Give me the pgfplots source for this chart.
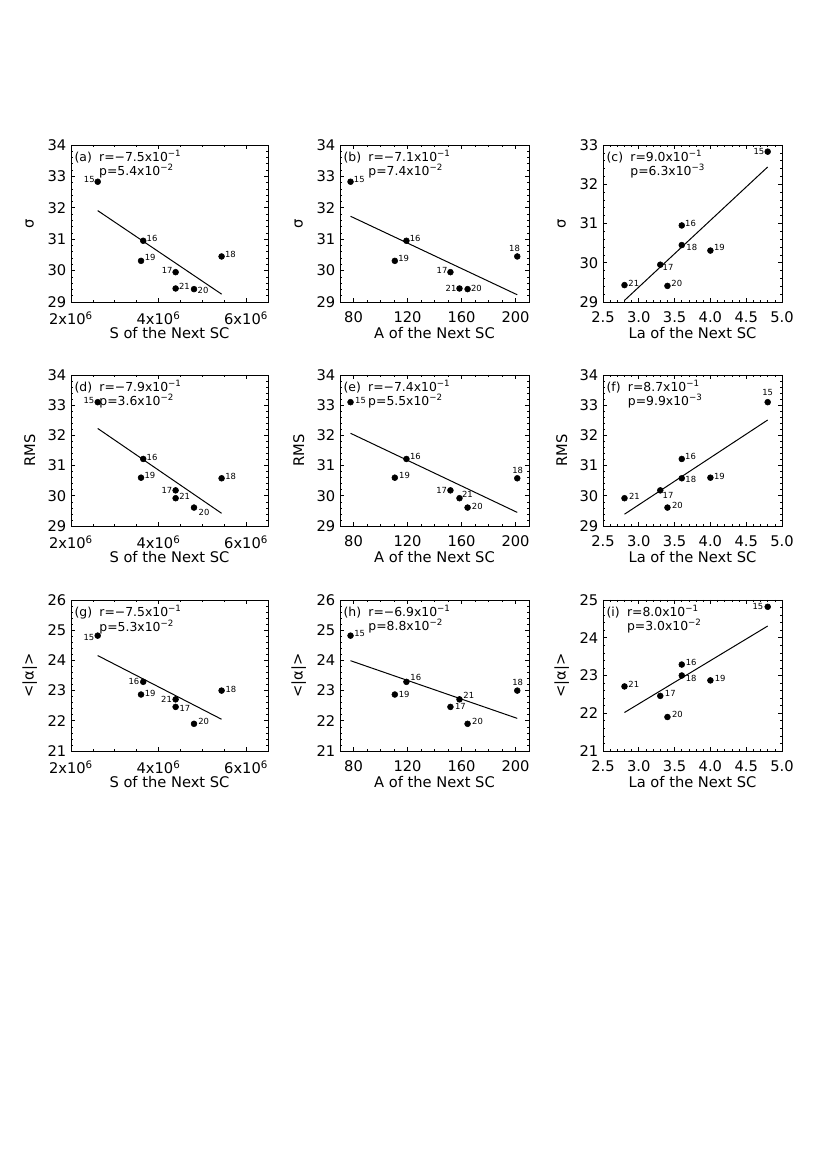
\documentclass[border=0pt]{standalone}
\usepackage{fontspec}
\setmainfont{DejaVu Sans}
\usepackage{pgfplots}
\usepackage{pgfplotstable}
\pgfplotsset{compat=1.18}

% one table per panel: x, y, cycle number, label offset (pt)
\pgfplotstableread{
x      y     c  dx   dy
2.61e6 32.83 15 -6.3 1.5
3.65e6 30.95 16  6.6 1.5
4.39e6 29.95 17 -6.3 1.2
5.44e6 30.45 18  6.6 1.7
3.60e6 30.31 19  6.8 2.3
4.81e6 29.41 20  6.8 -1.2
4.39e6 29.43 21  6.6 1.5
}\tabA
\pgfplotstableread{
x     y     c  dx   dy
77.8  32.83 15  6.6 1.5
119.2 30.95 16  6.6 1.5
151.8 29.95 17 -6.3 1.2
201.3 30.45 18 -2.0 6.3
110.6 30.31 19  6.6 1.8
164.5 29.41 20  6.6 0.3
158.5 29.43 21 -6.3 0.3
}\tabB
\pgfplotstableread{
x   y     c  dx   dy
4.8 32.83 15 -6.6 0.3
3.6 30.95 16  6.6 1.6
3.3 29.95 17  5.8 -2.0
3.6 30.45 18  7.5 -2.0
4.0 30.31 19  6.8 2.0
3.4 29.41 20  7.0 1.5
2.8 29.43 21  7.0 1.5
}\tabC
\pgfplotstableread{
x      y     c  dx   dy
2.61e6 33.10 15 -6.6 1.5
3.65e6 31.22 16  6.6 1.5
4.39e6 30.18 17 -6.5 0.3
5.44e6 30.58 18  6.8 1.7
3.60e6 30.60 19  6.6 1.5
4.81e6 29.61 20  7.5 -3.5
4.39e6 29.92 21  6.8 1.2
}\tabD
\pgfplotstableread{
x     y     c  dx   dy
77.8  33.10 15  7.5 1.5
119.2 31.22 16  6.8 1.7
151.8 30.18 17 -6.6 0.3
201.3 30.58 18  0.3 6.0
110.6 30.60 19  7.3 1.7
164.5 29.61 20  7.3 1.2
158.5 29.92 21  6.0 2.5
}\tabE
\pgfplotstableread{
x   y     c  dx   dy
4.8 33.10 15  0.0 7.0
3.6 31.22 16  6.6 1.7
3.3 30.18 17  5.8 -4.0
3.6 30.58 18  6.8 -0.8
4.0 30.60 19  6.8 1.0
3.4 29.61 20  7.5 1.5
2.8 29.92 21  7.5 1.2
}\tabF
\pgfplotstableread{
x      y     c  dx   dy
2.61e6 24.82 15 -6.6 -1.7
3.65e6 23.29 16 -7.0 0.3
4.39e6 22.46 17  7.0 -1.3
5.44e6 23.00 18  7.0 1.2
3.60e6 22.87 19  6.8 1.0
4.81e6 21.90 20  7.3 1.5
4.39e6 22.71 21 -6.8 0.3
}\tabG
\pgfplotstableread{
x     y     c  dx   dy
77.8  24.82 15  6.8 1.7
119.2 23.29 16  7.0 3.0
151.8 22.46 17  7.5 0.0
201.3 23.00 18  0.3 6.0
110.6 22.87 19  7.0 0.3
164.5 21.90 20  7.5 1.5
158.5 22.71 21  7.0 3.0
}\tabH
\pgfplotstableread{
x   y     c  dx   dy
4.8 24.82 15 -7.3 0.3
3.6 23.29 16  7.0 1.7
3.3 22.46 17  7.5 1.7
3.6 23.00 18  7.0 -2.5
4.0 22.87 19  7.3 1.2
3.4 21.90 20  7.5 1.7
2.8 22.71 21  7.0 1.2
}\tabI

\tikzset{note/.style={anchor=north west, inner sep=0pt, xshift=2.5pt, yshift=-3.5pt,
    align=left, font=\fontsize{9.3}{8}\selectfont}}
% panel letter, r and p
\newcommand{\rp}[3]{(#1)\hspace{5.5pt}r=#2\\\hphantom{(#1)\hspace{5.5pt}}p=#3}

\pgfplotsset{
  panel/.style={
    scale only axis, clip=false,
    tick align=inside,
    major tick length=3.2pt, minor tick length=1.6pt,
    every tick/.append style={black, line width=0.5pt},
    axis line style={line width=0.6pt},
    tick label style={font=\fontsize{11}{12}\selectfont},
    /pgf/number format/assume math mode=true,
    xticklabel style={yshift=-4pt},
    minor y tick num=4,
    every axis x label/.style={at={(rel axis cs:0.5,0)}, anchor=north,
      yshift=-18.5pt, inner sep=0pt, font=\fontsize{11}{12}\selectfont},
    every axis y label/.style={at={(rel axis cs:0,0.5)}, xshift=-31pt,
      rotate=90, anchor=center, inner sep=0pt, font=\fontsize{11}{12}\selectfont},
  },
  colS/.style={xmin=2e6, xmax=6.5e6, xtick={2e6,4e6,6e6}, scaled x ticks=false,
    xticklabels={2x10\textsuperscript{6},4x10\textsuperscript{6},6x10\textsuperscript{6}},
    minor x tick num=3, xlabel={S of the Next SC}, width=147.75pt},
  colA/.style={xmin=70, xmax=210, xtick={80,120,160,200}, minor x tick num=3,
    xlabel={A of the Next SC}, width=141.75pt},
  colL/.style={xmin=2.5, xmax=5, xtick={2.5,3,...,5}, minor x tick num=4,
    xticklabel style={/pgf/number format/.cd, fixed, fixed zerofill, precision=1},
    xlabel={La of the Next SC}, width=134.25pt},
  pts/.style={only marks, mark=*, mark size=2.2pt, black,
    nodes near coords, point meta=explicit symbolic,
    visualization depends on={\thisrow{dx}\as\dx},
    visualization depends on={\thisrow{dy}\as\dy},
    every node near coord/.append style={anchor=center, xshift=\dx pt, yshift=\dy pt,
      inner sep=0pt, font=\fontsize{6.3}{7}\selectfont}},
  fitline/.style={black, line width=0.75pt, no marks},
}

\newcommand{\panel}[5]{%
  \begin{axis}[panel, at={#1}, anchor=south west, #2]
    \addplot[pts] table[x=x, y=y, meta=c]{#3};
    \addplot[fitline] coordinates {#4};
    \node[note] at (rel axis cs:0,1) {#5};
  \end{axis}}

\begin{document}
\begin{tikzpicture}
\useasboundingbox (0,0) rectangle (617.25pt,872.25pt);

% row 1: sigma
\panel{(53.25pt,645.75pt)}{colS, height=117.75pt, ymin=29, ymax=34, ytick={29,...,34}, ylabel={σ}}
  {\tabA}{(2.61e6,31.91) (5.44e6,29.25)}
  {\rp{a}{−7.5x10\textsuperscript{−1}}{5.4x10\textsuperscript{−2}}}
\panel{(255pt,645.75pt)}{colA, height=117.75pt, ymin=29, ymax=34, ytick={29,...,34}, ylabel={σ}}
  {\tabB}{(77.8,31.73) (201.3,29.23)}
  {\rp{b}{−7.1x10\textsuperscript{−1}}{7.4x10\textsuperscript{−2}}}
\panel{(452.25pt,645.75pt)}{colL, height=117.75pt, ymin=29, ymax=33, ytick={29,...,33}, ylabel={σ}}
  {\tabC}{(2.8,29.04) (4.8,32.44)}
  {\rp{c}{9.0x10\textsuperscript{−1}}{6.3x10\textsuperscript{−3}}}

% row 2: RMS
\panel{(53.25pt,477.75pt)}{colS, height=113.25pt, ymin=29, ymax=34, ytick={29,...,34}, ylabel={RMS}}
  {\tabD}{(2.61e6,32.23) (5.44e6,29.42)}
  {\rp{d}{−7.9x10\textsuperscript{−1}}{3.6x10\textsuperscript{−2}}}
\panel{(255pt,477.75pt)}{colA, height=113.25pt, ymin=29, ymax=34, ytick={29,...,34}, ylabel={RMS}}
  {\tabE}{(77.8,32.07) (201.3,29.45)}
  {\rp{e}{−7.4x10\textsuperscript{−1}}{5.5x10\textsuperscript{−2}}}
\panel{(452.25pt,477.75pt)}{colL, height=113.25pt, ymin=29, ymax=34, ytick={29,...,34}, ylabel={RMS}}
  {\tabF}{(2.8,29.39) (4.8,32.51)}
  {\rp{f}{8.7x10\textsuperscript{−1}}{9.9x10\textsuperscript{−3}}}

% row 3: mean absolute alpha
\panel{(53.25pt,309pt)}{colS, height=113.25pt, ymin=21, ymax=26, ytick={21,...,26}, ylabel={<|α|>}}
  {\tabG}{(2.61e6,24.16) (5.44e6,22.05)}
  {\rp{g}{−7.5x10\textsuperscript{−1}}{5.3x10\textsuperscript{−2}}}
\panel{(255pt,309pt)}{colA, height=113.25pt, ymin=21, ymax=26, ytick={21,...,26}, ylabel={<|α|>}}
  {\tabH}{(77.8,23.99) (201.3,22.08)}
  {\rp{h}{−6.9x10\textsuperscript{−1}}{8.8x10\textsuperscript{−2}}}
\panel{(452.25pt,309pt)}{colL, height=113.25pt, ymin=21, ymax=25, ytick={21,...,25}, ylabel={<|α|>}}
  {\tabI}{(2.8,22.02) (4.8,24.31)}
  {\rp{i}{8.0x10\textsuperscript{−1}}{3.0x10\textsuperscript{−2}}}
\end{tikzpicture}
\end{document}
